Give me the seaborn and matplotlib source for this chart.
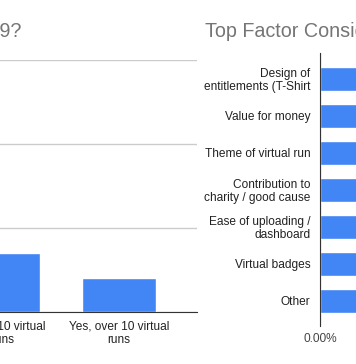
import matplotlib
matplotlib.use("Agg")
import matplotlib.pyplot as plt
import seaborn as sns
from matplotlib.ticker import PercentFormatter

# data (left chart is cropped: only its tail is in view)
runs_cats = ["No", "Yes, 1-10 virtual\nruns", "Yes, over 10 virtual\nruns"]
runs_vals = [55, 14, 8]

factor_cats = ["Design of\nentitlements (T-Shirt", "Value for money", "Theme of virtual run",
               "Contribution to\ncharity / good cause", "Ease of uploading /\ndashboard",
               "Virtual badges", "Other"]
factor_vals = [0.34, 0.21, 0.13, 0.10, 0.08, 0.07, 0.07]

BLUE = "#4285F4"

sns.set_style("white")
plt.rcParams['font.family'] = ['Liberation Sans', 'DejaVu Sans']

W, H = 356, 364
fig = plt.figure(figsize=(W / 100, H / 100), dpi=100)

def rect(left, top, right, bottom):
    return [left / W, 1 - bottom / H, (right - left) / W, (bottom - top) / H]

# Left chart
ax1 = fig.add_axes(rect(-191, 60, 197, 312))
sns.barplot(x=runs_cats, y=runs_vals, color=BLUE, width=0.64, saturation=1, ax=ax1)
ax1.set_xlim(-0.672, 2.672)
ax1.set_ylim(0, 60)
ax1.set_yticks([0, 20, 40, 60])
ax1.yaxis.grid(True, color="#cccccc", linewidth=1)
ax1.set_axisbelow(True)
for s in ["top", "right", "left"]:
    ax1.spines[s].set_visible(False)
ax1.spines["bottom"].set_color("#333333")
ax1.tick_params(axis="both", length=0, pad=6, labelsize=8.6, labelcolor="#222222")
ax1.set_yticklabels([])
ax1.set_xlabel("")
ax1.set_ylabel("")

# Right chart
ax2 = fig.add_axes(rect(320, 53, 720, 326))
sns.barplot(x=factor_vals, y=factor_cats, orient="h", color=BLUE, width=0.65,
            saturation=1, ax=ax2)
ax2.set_ylim(6.69, -0.7)
ax2.set_xlim(0, 0.4)
ax2.set_xticks([0, 0.1, 0.2, 0.3, 0.4])
ax2.xaxis.set_major_formatter(PercentFormatter(1.0, decimals=2))
ax2.xaxis.grid(True, color="#cccccc", linewidth=1)
ax2.set_axisbelow(True)
for s in ["top", "right", "bottom"]:
    ax2.spines[s].set_visible(False)
ax2.spines["left"].set_color("#333333")
ax2.tick_params(axis="y", length=0, pad=7, labelsize=8.6, labelcolor="#222222")
ax2.tick_params(axis="x", length=0, pad=5, labelsize=8.6, labelcolor="#444444")
for t in ax2.get_yticklabels():
    t.set_linespacing(1.1)
ax2.set_xlabel("")
ax2.set_ylabel("")

# Titles
fig.text(21 / W, 1 - 37 / H, "How many virtual runs did you join in 2019?", ha="right",
         va="baseline", fontsize=14.2, color="#757575")
fig.text(205 / W, 1 - 37 / H, "Top Factor Considered When Joining a Virtual Run", ha="left",
         va="baseline", fontsize=14.2, color="#757575")

fig.savefig("out.png", dpi=100)
